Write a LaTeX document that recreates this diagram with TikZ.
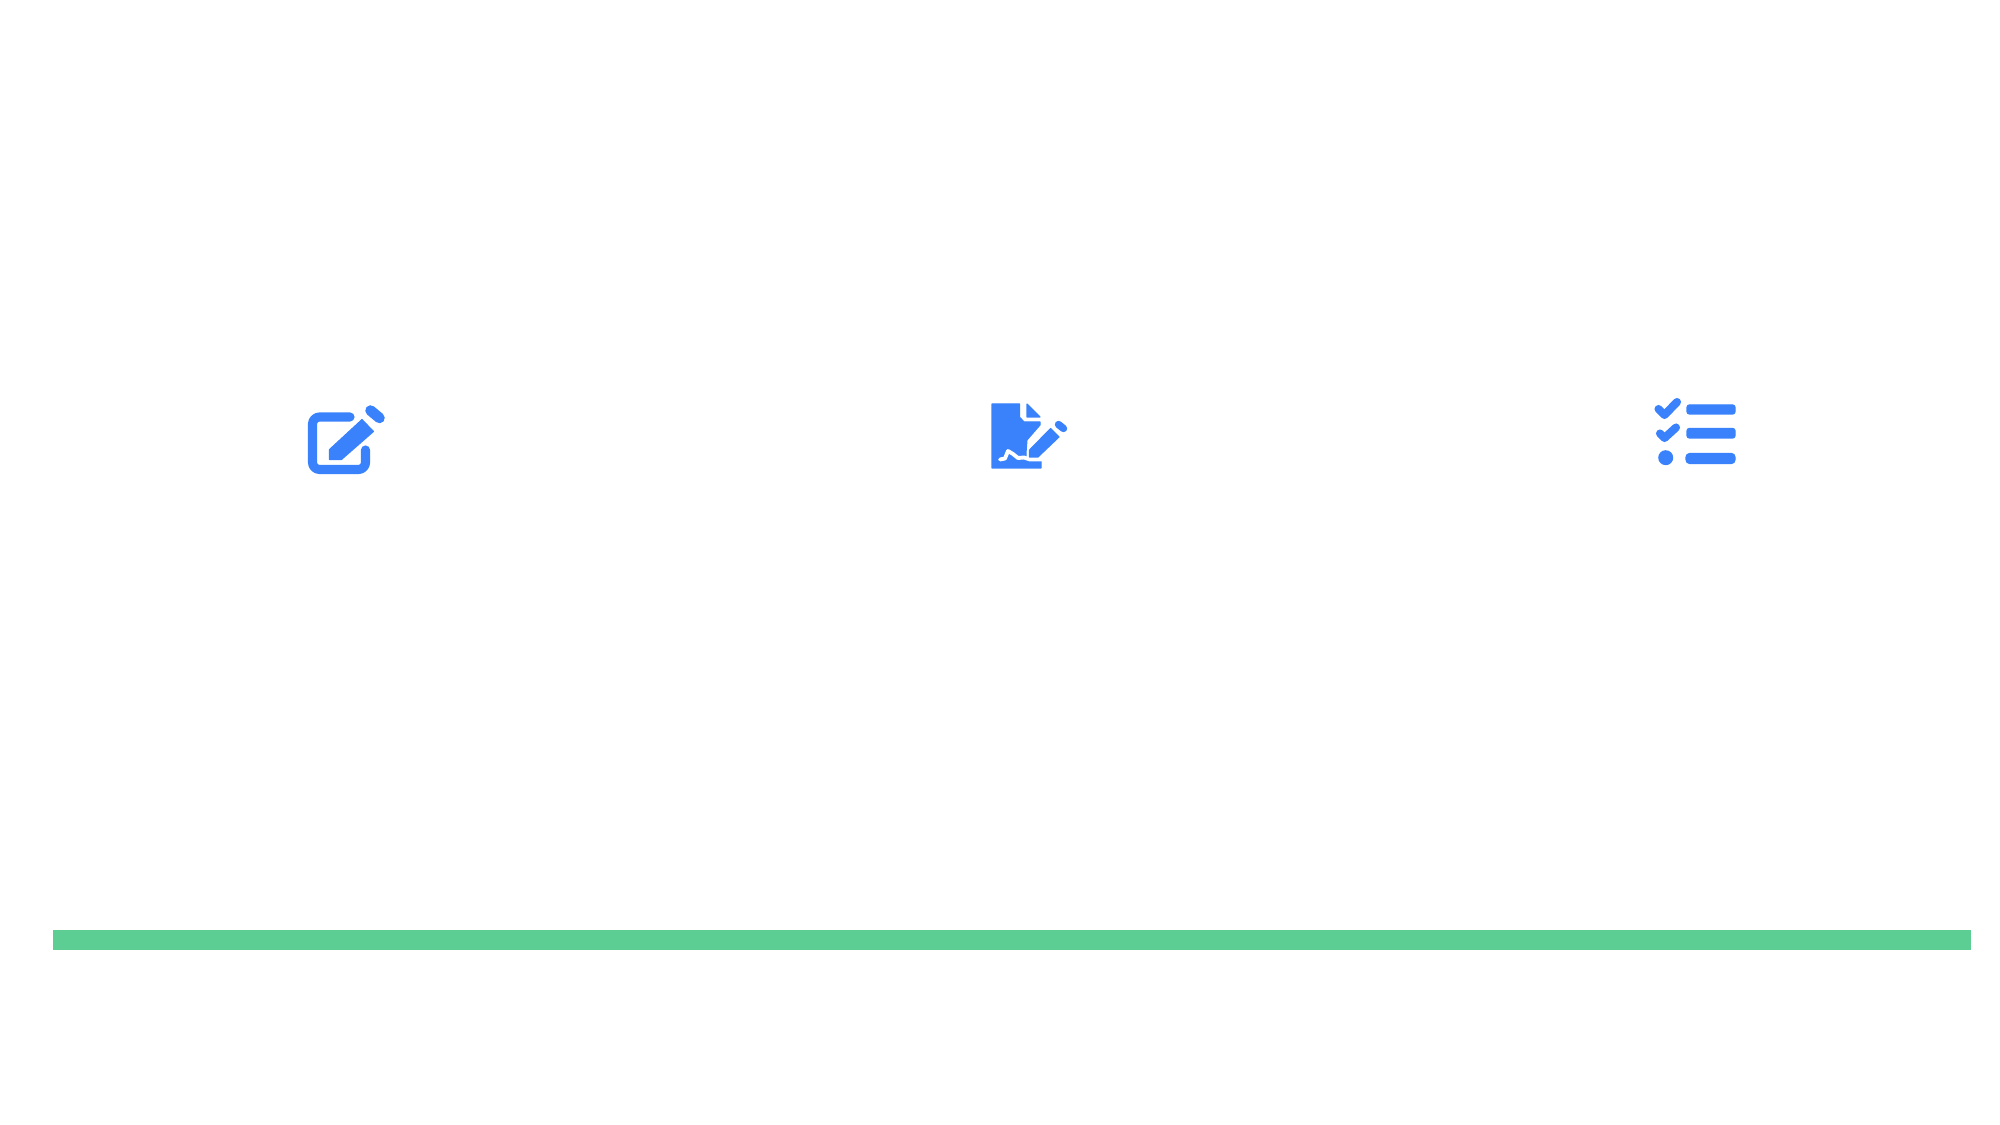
\documentclass[tikz,border=0pt]{standalone}
\definecolor{iconblue}{HTML}{3A82FB}
\definecolor{bargreen}{HTML}{5CCE93}
\tikzset{
  px/.style={x=0.01cm,y=-0.01cm},
  iconfill/.style={fill=iconblue,draw=iconblue,line width=0.3pt,line join=round},
  iconline/.style={draw=iconblue,line cap=round,line join=round},
}
\begin{document}
\begin{tikzpicture}[px]
\useasboundingbox (0,0) rectangle (2000,1125);
% green bar
\fill[bargreen] (53,930) rectangle (1971,950);
% icon 1: edit
\draw[iconline,line width=2.6pt,rounded corners=2pt] (350,417) -- (312.5,417) -- (312.5,469.5) -- (365.5,469.5) -- (365.5,450);
\fill[iconfill] (329.5,459.5) -- (329.5,449.5) -- (362,419.5) -- (373.5,431.5) -- (341.5,459.5) -- cycle;
\draw[iconline,line width=3pt] (370.5,410.5) -- (379.5,418);
% icon 2: signature document
\fill[iconfill] (992,404) -- (1019.5,404) -- (1019.5,417) -- (1024,422) -- (1040,422) -- (1040,425) -- (1027,440) -- (1026,453) -- (1026,459) -- (1041,459) -- (1041,468) -- (992,468) -- cycle;
\draw[white,line width=1.1pt,line cap=round,line join=round] (1000,459.5) -- (1005,458.5) -- (1008,451) -- (1013,454) -- (1018,458) -- (1024,457.5) -- (1030,459.5) -- (1043,459.5);
\fill[iconfill] (1027,404) -- (1040,417) -- (1027,417) -- cycle;
\fill[iconfill] (1029.5,450) -- (1050.5,428.5) -- (1059,437) -- (1038,457) -- (1029.5,457) -- cycle;
\draw[iconline,line width=2.1pt] (1058.5,424.5) -- (1063.5,428.5);
% icon 3: checklist
\draw[iconline,line width=2.3pt] (1658.5,409) -- (1664.5,415) -- (1677,402);
\draw[iconline,line width=2.3pt] (1660,433.5) -- (1664.5,438) -- (1676,427.5);
\fill[iconblue] (1665.7,457.7) circle (7.5);
\fill[iconfill,rounded corners=0.6pt] (1687,405) rectangle (1735,414);
\fill[iconfill,rounded corners=0.6pt] (1687,428.5) rectangle (1735,438);
\fill[iconfill,rounded corners=1pt] (1686,453.5) rectangle (1735,463.5);
\end{tikzpicture}
\end{document}
